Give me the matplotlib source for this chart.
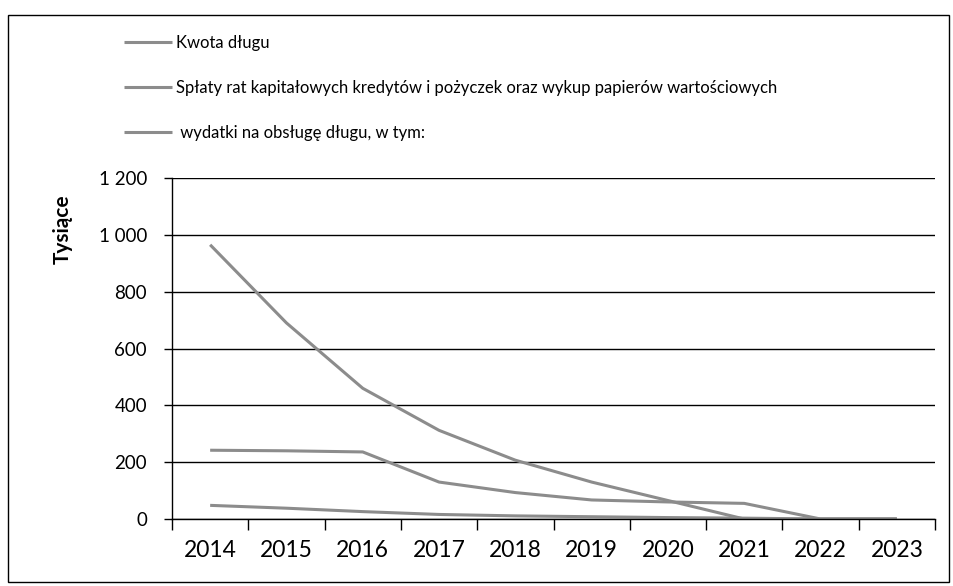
import matplotlib
matplotlib.use("Agg")
import matplotlib.pyplot as plt
from matplotlib.patches import Rectangle
from matplotlib.ticker import FuncFormatter, FixedLocator
import numpy as np

plt.rcParams['font.family'] = ['Lato', 'DejaVu Sans']

years = ["2014", "2015", "2016", "2017", "2018", "2019", "2020", "2021", "2022", "2023"]
kwota_dlugu = [965, 690, 460, 312, 207, 130, 65, 0, 0, 0]
splaty_rat = [242, 240, 236, 130, 93, 67, 60, 55, 0, 0]
wydatki_obsluga = [48, 38, 26, 16, 11, 8, 5, 3, 0, 0]

series_labels = [
    "Kwota długu",
    "Spłaty rat kapitałowych kredytów i pożyczek oraz wykup papierów wartościowych",
    " wydatki na obsługę długu, w tym:",
]

fig = plt.figure(figsize=(9.54, 5.86), dpi=100)
ax = fig.add_axes([172/954, 1-519/586, (935-172)/954, (519-178)/586])

x = np.arange(len(years))
line_color = "#8c8c8c"
for vals, lab in zip([kwota_dlugu, splaty_rat, wydatki_obsluga], series_labels):
    ax.plot(x, vals, color=line_color, lw=2.2, label=lab, solid_capstyle='butt')

ax.set_xlim(-0.5, len(years) - 0.5)
ax.set_ylim(0, 1200)
ax.set_yticks(np.arange(0, 1201, 200))
ax.yaxis.set_major_formatter(FuncFormatter(lambda v, p: f"{int(v):,}".replace(",", " ")))
ax.grid(axis='y', color='black', lw=1.0)
ax.set_axisbelow(True)

ax.xaxis.set_major_locator(FixedLocator(np.arange(-0.5, len(years), 1.0)))
ax.xaxis.set_major_formatter(FuncFormatter(lambda v, p: ""))
ax.xaxis.set_minor_locator(FixedLocator(x))
ax.set_xticklabels(years, minor=True)
ax.tick_params(axis='x', which='major', length=8, width=1, direction='out')
ax.tick_params(axis='x', which='minor', length=0, pad=15, labelsize=16.5)
ax.tick_params(axis='y', length=6, width=1, direction='out', labelsize=13.5, pad=12)

for s in ['top', 'right']:
    ax.spines[s].set_visible(False)
ax.spines['left'].set_linewidth(1.0)
ax.spines['bottom'].set_linewidth(1.0)

ax.set_ylabel("Tysiące", fontsize=15, fontweight='bold')
ax.yaxis.set_label_coords(-0.13, 0.85)

leg = fig.legend(loc='upper left', bbox_to_anchor=(124/954, 1 - 35/586), frameon=False,
                 fontsize=12, handlelength=2.9, handletextpad=0.25, labelspacing=1.75,
                 borderaxespad=0, borderpad=0)

fig.patches.append(Rectangle((8/954, 4/586), 0.995 - 8/954, 1 - 15/586 - 4/586,
                             transform=fig.transFigure, fill=False, edgecolor='black', lw=1.0))

fig.savefig("out.png", dpi=100)
